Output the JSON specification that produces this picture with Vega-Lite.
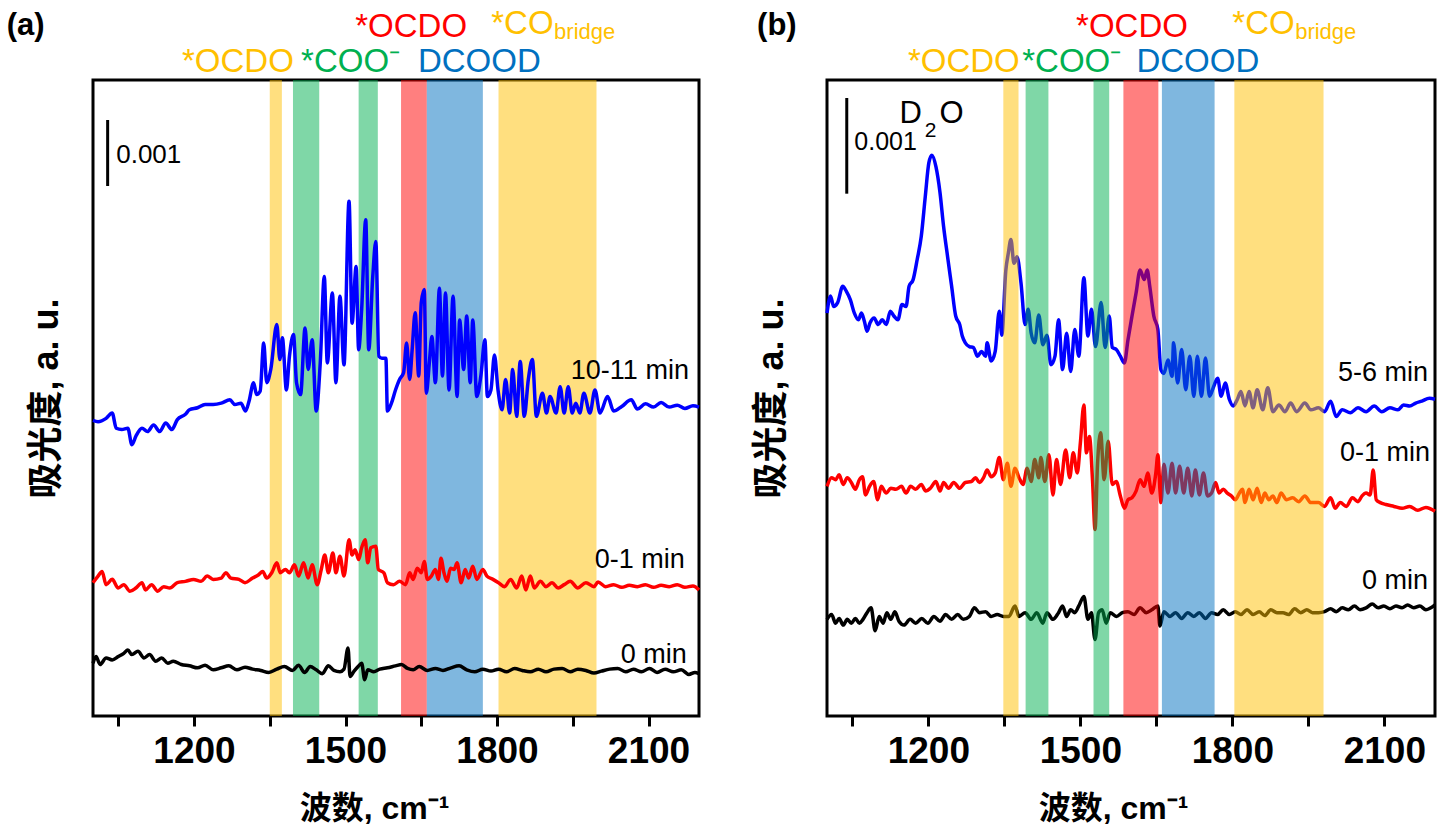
{
  "$schema": "https://vega.github.io/schema/vega-lite/v6.json",
  "background": "white",
  "padding": {"left": 5, "top": 6, "right": 5, "bottom": 5},
  "bounds": "flush",
  "spacing": 128,
  "config": {
    "view": {"stroke": "black", "strokeWidth": 3},
    "font": "Liberation Sans",
    "axisX": {
      "grid": false, "domain": false, "tickSize": 10, "tickWidth": 3, "tickColor": "black",
      "labelFont": "Liberation Sans", "labelFontSize": 37, "labelFontWeight": "bold", "labelColor": "black",
      "labelPadding": 7, "labelOverlap": false, "labelFlush": false,
      "titleFont": "Liberation Sans, Noto Sans CJK SC", "titleFontSize": 32, "titleFontWeight": "bold",
      "titleColor": "black", "titlePadding": 24
    },
    "axisY": {
      "grid": false, "domain": false, "ticks": false, "labels": false,
      "titleFont": "Liberation Sans, Noto Sans CJK SC", "titleFontSize": 36, "titleFontWeight": "bold",
      "titleColor": "black"
    }
  },
  "datasets": {
    "a_0": [
      {"wn":1000,"v":0.80},{"wn":1006,"v":0.90},{"wn":1014,"v":0.78},{"wn":1026,"v":0.88},{"wn":1038,"v":0.85},{"wn":1050,"v":0.90},{"wn":1061,"v":0.95},{"wn":1069,"v":1.00},{"wn":1077,"v":0.93},{"wn":1089,"v":0.98},{"wn":1101,"v":0.88},{"wn":1112,"v":0.93},{"wn":1124,"v":0.83},{"wn":1136,"v":0.88},{"wn":1148,"v":0.80},{"wn":1159,"v":0.83},{"wn":1175,"v":0.78},{"wn":1191,"v":0.76},{"wn":1207,"v":0.73},{"wn":1222,"v":0.77},{"wn":1238,"v":0.70},{"wn":1254,"v":0.73},{"wn":1269,"v":0.76},{"wn":1285,"v":0.70},{"wn":1301,"v":0.74},{"wn":1316,"v":0.71},{"wn":1332,"v":0.69},{"wn":1348,"v":0.66},{"wn":1364,"v":0.71},{"wn":1379,"v":0.75},{"wn":1395,"v":0.69},{"wn":1407,"v":0.77},{"wn":1419,"v":0.66},{"wn":1430,"v":0.75},{"wn":1442,"v":0.70},{"wn":1454,"v":0.64},{"wn":1466,"v":0.76},{"wn":1477,"v":0.69},{"wn":1489,"v":0.67},{"wn":1497,"v":0.71},{"wn":1505,"v":1.03},{"wn":1509,"v":0.60},{"wn":1517,"v":0.68},{"wn":1525,"v":0.75},{"wn":1532,"v":0.80},{"wn":1538,"v":0.55},{"wn":1544,"v":0.70},{"wn":1556,"v":0.67},{"wn":1568,"v":0.71},{"wn":1583,"v":0.73},{"wn":1599,"v":0.76},{"wn":1611,"v":0.78},{"wn":1623,"v":0.72},{"wn":1634,"v":0.70},{"wn":1646,"v":0.75},{"wn":1662,"v":0.69},{"wn":1678,"v":0.72},{"wn":1693,"v":0.69},{"wn":1709,"v":0.73},{"wn":1725,"v":0.76},{"wn":1740,"v":0.70},{"wn":1756,"v":0.67},{"wn":1772,"v":0.71},{"wn":1788,"v":0.68},{"wn":1803,"v":0.71},{"wn":1819,"v":0.67},{"wn":1835,"v":0.72},{"wn":1850,"v":0.69},{"wn":1866,"v":0.67},{"wn":1882,"v":0.71},{"wn":1897,"v":0.67},{"wn":1913,"v":0.71},{"wn":1929,"v":0.72},{"wn":1945,"v":0.67},{"wn":1960,"v":0.71},{"wn":1976,"v":0.69},{"wn":1992,"v":0.65},{"wn":2007,"v":0.68},{"wn":2023,"v":0.71},{"wn":2039,"v":0.72},{"wn":2055,"v":0.67},{"wn":2070,"v":0.71},{"wn":2086,"v":0.67},{"wn":2102,"v":0.72},{"wn":2117,"v":0.66},{"wn":2133,"v":0.71},{"wn":2149,"v":0.67},{"wn":2165,"v":0.70},{"wn":2180,"v":0.63},{"wn":2192,"v":0.66},{"wn":2200,"v":0.64}
    ],
    "a_01": [
      {"wn":1000,"v":2.02},{"wn":1010,"v":2.12},{"wn":1018,"v":2.19},{"wn":1026,"v":1.99},{"wn":1038,"v":2.07},{"wn":1050,"v":1.94},{"wn":1061,"v":1.99},{"wn":1073,"v":1.89},{"wn":1085,"v":1.94},{"wn":1097,"v":2.02},{"wn":1104,"v":1.91},{"wn":1116,"v":1.99},{"wn":1128,"v":1.89},{"wn":1140,"v":1.96},{"wn":1152,"v":1.94},{"wn":1167,"v":2.02},{"wn":1183,"v":2.04},{"wn":1199,"v":2.07},{"wn":1214,"v":2.04},{"wn":1226,"v":2.12},{"wn":1238,"v":2.07},{"wn":1254,"v":2.09},{"wn":1263,"v":2.17},{"wn":1273,"v":2.09},{"wn":1289,"v":2.07},{"wn":1301,"v":2.02},{"wn":1316,"v":2.09},{"wn":1328,"v":2.14},{"wn":1336,"v":2.19},{"wn":1344,"v":2.09},{"wn":1354,"v":2.17},{"wn":1364,"v":2.32},{"wn":1371,"v":2.17},{"wn":1381,"v":2.22},{"wn":1389,"v":2.17},{"wn":1399,"v":2.29},{"wn":1407,"v":2.12},{"wn":1417,"v":2.32},{"wn":1426,"v":2.09},{"wn":1434,"v":2.29},{"wn":1444,"v":1.99},{"wn":1452,"v":2.22},{"wn":1459,"v":2.44},{"wn":1466,"v":2.17},{"wn":1475,"v":2.47},{"wn":1481,"v":2.17},{"wn":1489,"v":2.42},{"wn":1497,"v":2.12},{"wn":1507,"v":2.67},{"wn":1513,"v":2.44},{"wn":1519,"v":2.52},{"wn":1526,"v":2.37},{"wn":1532,"v":2.55},{"wn":1539,"v":2.67},{"wn":1544,"v":2.32},{"wn":1550,"v":2.55},{"wn":1560,"v":2.57},{"wn":1565,"v":2.22},{"wn":1576,"v":2.17},{"wn":1583,"v":2.02},{"wn":1595,"v":1.99},{"wn":1607,"v":2.04},{"wn":1619,"v":1.99},{"wn":1627,"v":2.17},{"wn":1634,"v":2.07},{"wn":1642,"v":2.24},{"wn":1650,"v":2.17},{"wn":1656,"v":2.34},{"wn":1662,"v":2.07},{"wn":1670,"v":2.12},{"wn":1678,"v":2.22},{"wn":1684,"v":2.07},{"wn":1689,"v":2.39},{"wn":1695,"v":2.17},{"wn":1701,"v":2.04},{"wn":1708,"v":2.24},{"wn":1715,"v":2.22},{"wn":1721,"v":2.32},{"wn":1729,"v":2.02},{"wn":1737,"v":2.22},{"wn":1744,"v":2.09},{"wn":1752,"v":2.27},{"wn":1760,"v":2.07},{"wn":1772,"v":2.22},{"wn":1780,"v":2.12},{"wn":1792,"v":2.07},{"wn":1803,"v":2.02},{"wn":1815,"v":1.96},{"wn":1827,"v":2.07},{"wn":1839,"v":1.94},{"wn":1849,"v":2.12},{"wn":1857,"v":1.91},{"wn":1866,"v":2.12},{"wn":1874,"v":1.94},{"wn":1886,"v":2.04},{"wn":1897,"v":1.96},{"wn":1909,"v":2.02},{"wn":1921,"v":1.94},{"wn":1933,"v":1.99},{"wn":1945,"v":2.04},{"wn":1960,"v":1.94},{"wn":1976,"v":2.02},{"wn":1992,"v":1.96},{"wn":2000,"v":2.03},{"wn":2015,"v":1.96},{"wn":2031,"v":1.99},{"wn":2047,"v":1.95},{"wn":2062,"v":1.98},{"wn":2078,"v":1.96},{"wn":2094,"v":1.99},{"wn":2110,"v":1.95},{"wn":2125,"v":1.98},{"wn":2141,"v":1.96},{"wn":2157,"v":1.99},{"wn":2172,"v":1.95},{"wn":2188,"v":1.97},{"wn":2200,"v":1.91}
    ],
    "a_1011": [
      {"wn":1000,"v":4.48},{"wn":1010,"v":4.46},{"wn":1026,"v":4.51},{"wn":1038,"v":4.59},{"wn":1046,"v":4.36},{"wn":1057,"v":4.34},{"wn":1069,"v":4.36},{"wn":1077,"v":4.11},{"wn":1085,"v":4.24},{"wn":1097,"v":4.36},{"wn":1108,"v":4.31},{"wn":1120,"v":4.41},{"wn":1132,"v":4.31},{"wn":1144,"v":4.44},{"wn":1156,"v":4.34},{"wn":1167,"v":4.49},{"wn":1183,"v":4.57},{"wn":1191,"v":4.64},{"wn":1207,"v":4.67},{"wn":1222,"v":4.72},{"wn":1238,"v":4.72},{"wn":1254,"v":4.74},{"wn":1271,"v":4.79},{"wn":1281,"v":4.72},{"wn":1293,"v":4.74},{"wn":1302,"v":4.62},{"wn":1309,"v":4.77},{"wn":1318,"v":5.05},{"wn":1324,"v":4.87},{"wn":1331,"v":4.92},{"wn":1338,"v":5.65},{"wn":1344,"v":5.05},{"wn":1352,"v":5.25},{"wn":1364,"v":5.93},{"wn":1370,"v":5.40},{"wn":1375,"v":5.73},{"wn":1383,"v":4.94},{"wn":1389,"v":5.45},{"wn":1397,"v":5.78},{"wn":1403,"v":5.05},{"wn":1411,"v":4.87},{"wn":1420,"v":5.88},{"wn":1426,"v":5.25},{"wn":1434,"v":5.70},{"wn":1442,"v":4.62},{"wn":1450,"v":5.35},{"wn":1458,"v":6.66},{"wn":1464,"v":5.35},{"wn":1474,"v":6.41},{"wn":1481,"v":5.05},{"wn":1489,"v":6.36},{"wn":1497,"v":5.32},{"wn":1507,"v":7.80},{"wn":1513,"v":5.95},{"wn":1521,"v":6.81},{"wn":1526,"v":5.55},{"wn":1532,"v":6.16},{"wn":1540,"v":7.52},{"wn":1546,"v":5.55},{"wn":1554,"v":6.66},{"wn":1560,"v":7.19},{"wn":1566,"v":5.45},{"wn":1572,"v":5.42},{"wn":1580,"v":5.42},{"wn":1583,"v":4.62},{"wn":1591,"v":4.74},{"wn":1599,"v":4.94},{"wn":1607,"v":5.10},{"wn":1615,"v":5.20},{"wn":1621,"v":5.65},{"wn":1627,"v":5.10},{"wn":1632,"v":5.55},{"wn":1638,"v":6.11},{"wn":1645,"v":5.15},{"wn":1650,"v":6.26},{"wn":1656,"v":6.46},{"wn":1660,"v":4.89},{"wn":1666,"v":5.35},{"wn":1671,"v":5.75},{"wn":1678,"v":5.05},{"wn":1686,"v":6.48},{"wn":1692,"v":5.15},{"wn":1698,"v":6.41},{"wn":1705,"v":4.94},{"wn":1713,"v":6.36},{"wn":1721,"v":4.84},{"wn":1726,"v":6.00},{"wn":1734,"v":5.25},{"wn":1740,"v":6.06},{"wn":1747,"v":5.05},{"wn":1752,"v":6.00},{"wn":1760,"v":4.84},{"wn":1768,"v":5.15},{"wn":1776,"v":5.70},{"wn":1781,"v":4.84},{"wn":1788,"v":4.94},{"wn":1795,"v":5.47},{"wn":1802,"v":4.94},{"wn":1810,"v":4.64},{"wn":1817,"v":5.10},{"wn":1825,"v":4.59},{"wn":1831,"v":5.25},{"wn":1839,"v":4.54},{"wn":1846,"v":5.37},{"wn":1854,"v":4.54},{"wn":1862,"v":5.10},{"wn":1870,"v":5.40},{"wn":1878,"v":4.54},{"wn":1890,"v":4.89},{"wn":1898,"v":4.59},{"wn":1905,"v":4.84},{"wn":1917,"v":4.59},{"wn":1925,"v":4.99},{"wn":1933,"v":4.59},{"wn":1941,"v":4.99},{"wn":1949,"v":4.59},{"wn":1956,"v":4.74},{"wn":1964,"v":4.59},{"wn":1972,"v":4.89},{"wn":1984,"v":4.59},{"wn":1994,"v":4.94},{"wn":2004,"v":4.59},{"wn":2019,"v":4.84},{"wn":2031,"v":4.62},{"wn":2047,"v":4.69},{"wn":2066,"v":4.79},{"wn":2078,"v":4.65},{"wn":2094,"v":4.73},{"wn":2110,"v":4.68},{"wn":2125,"v":4.75},{"wn":2141,"v":4.68},{"wn":2157,"v":4.71},{"wn":2172,"v":4.66},{"wn":2188,"v":4.70},{"wn":2200,"v":4.68}
    ],
    "b_0": [
      {"wn":1000,"v":1.01},{"wn":1009,"v":1.06},{"wn":1017,"v":0.97},{"wn":1024,"v":1.02},{"wn":1032,"v":0.95},{"wn":1040,"v":1.01},{"wn":1048,"v":0.97},{"wn":1056,"v":1.02},{"wn":1064,"v":0.97},{"wn":1071,"v":1.01},{"wn":1079,"v":1.08},{"wn":1087,"v":1.13},{"wn":1095,"v":0.89},{"wn":1103,"v":1.04},{"wn":1111,"v":0.97},{"wn":1118,"v":1.08},{"wn":1126,"v":1.01},{"wn":1134,"v":1.09},{"wn":1142,"v":0.99},{"wn":1152,"v":0.95},{"wn":1164,"v":1.01},{"wn":1175,"v":0.97},{"wn":1187,"v":1.02},{"wn":1199,"v":0.97},{"wn":1211,"v":1.04},{"wn":1223,"v":0.99},{"wn":1234,"v":1.06},{"wn":1246,"v":1.01},{"wn":1258,"v":1.06},{"wn":1269,"v":1.01},{"wn":1281,"v":1.04},{"wn":1291,"v":1.13},{"wn":1301,"v":1.08},{"wn":1313,"v":1.09},{"wn":1324,"v":1.04},{"wn":1336,"v":1.06},{"wn":1348,"v":1.04},{"wn":1359,"v":1.04},{"wn":1371,"v":1.15},{"wn":1379,"v":1.04},{"wn":1391,"v":1.08},{"wn":1403,"v":1.01},{"wn":1414,"v":1.08},{"wn":1426,"v":0.97},{"wn":1434,"v":1.08},{"wn":1446,"v":1.01},{"wn":1457,"v":1.08},{"wn":1465,"v":1.15},{"wn":1473,"v":1.04},{"wn":1481,"v":1.11},{"wn":1489,"v":1.08},{"wn":1497,"v":1.15},{"wn":1507,"v":1.25},{"wn":1515,"v":1.01},{"wn":1522,"v":1.08},{"wn":1529,"v":0.80},{"wn":1536,"v":1.08},{"wn":1543,"v":1.11},{"wn":1551,"v":0.97},{"wn":1559,"v":1.08},{"wn":1571,"v":1.04},{"wn":1583,"v":1.08},{"wn":1594,"v":1.09},{"wn":1606,"v":1.06},{"wn":1618,"v":1.13},{"wn":1630,"v":1.08},{"wn":1641,"v":1.11},{"wn":1653,"v":1.15},{"wn":1657,"v":0.94},{"wn":1665,"v":1.09},{"wn":1677,"v":1.04},{"wn":1688,"v":1.08},{"wn":1700,"v":1.02},{"wn":1712,"v":1.08},{"wn":1724,"v":1.04},{"wn":1735,"v":1.08},{"wn":1747,"v":1.02},{"wn":1759,"v":1.08},{"wn":1771,"v":1.06},{"wn":1782,"v":1.11},{"wn":1794,"v":1.06},{"wn":1806,"v":1.09},{"wn":1817,"v":1.06},{"wn":1829,"v":1.11},{"wn":1841,"v":1.06},{"wn":1853,"v":1.09},{"wn":1864,"v":1.05},{"wn":1876,"v":1.11},{"wn":1888,"v":1.08},{"wn":1900,"v":1.08},{"wn":1911,"v":1.06},{"wn":1923,"v":1.12},{"wn":1935,"v":1.08},{"wn":1947,"v":1.11},{"wn":1958,"v":1.08},{"wn":1970,"v":1.08},{"wn":1982,"v":1.09},{"wn":1994,"v":1.12},{"wn":2005,"v":1.09},{"wn":2017,"v":1.13},{"wn":2029,"v":1.11},{"wn":2041,"v":1.15},{"wn":2052,"v":1.11},{"wn":2064,"v":1.13},{"wn":2076,"v":1.17},{"wn":2088,"v":1.13},{"wn":2099,"v":1.15},{"wn":2111,"v":1.12},{"wn":2123,"v":1.15},{"wn":2135,"v":1.13},{"wn":2146,"v":1.16},{"wn":2158,"v":1.13},{"wn":2170,"v":1.15},{"wn":2182,"v":1.11},{"wn":2200,"v":1.16}
    ],
    "b_01": [
      {"wn":1000,"v":2.40},{"wn":1009,"v":2.49},{"wn":1017,"v":2.47},{"wn":1024,"v":2.52},{"wn":1032,"v":2.42},{"wn":1040,"v":2.49},{"wn":1048,"v":2.44},{"wn":1056,"v":2.37},{"wn":1064,"v":2.47},{"wn":1070,"v":2.50},{"wn":1076,"v":2.31},{"wn":1084,"v":2.40},{"wn":1092,"v":2.45},{"wn":1100,"v":2.26},{"wn":1107,"v":2.40},{"wn":1117,"v":2.33},{"wn":1126,"v":2.38},{"wn":1136,"v":2.37},{"wn":1147,"v":2.40},{"wn":1156,"v":2.33},{"wn":1165,"v":2.40},{"wn":1175,"v":2.37},{"wn":1186,"v":2.42},{"wn":1195,"v":2.35},{"wn":1204,"v":2.38},{"wn":1215,"v":2.45},{"wn":1223,"v":2.35},{"wn":1230,"v":2.44},{"wn":1240,"v":2.38},{"wn":1250,"v":2.44},{"wn":1262,"v":2.38},{"wn":1273,"v":2.44},{"wn":1285,"v":2.45},{"wn":1293,"v":2.49},{"wn":1301,"v":2.44},{"wn":1309,"v":2.49},{"wn":1316,"v":2.57},{"wn":1324,"v":2.50},{"wn":1332,"v":2.54},{"wn":1340,"v":2.70},{"wn":1348,"v":2.47},{"wn":1356,"v":2.64},{"wn":1363,"v":2.40},{"wn":1371,"v":2.59},{"wn":1379,"v":2.49},{"wn":1387,"v":2.42},{"wn":1395,"v":2.59},{"wn":1403,"v":2.45},{"wn":1410,"v":2.68},{"wn":1418,"v":2.49},{"wn":1422,"v":2.70},{"wn":1430,"v":2.45},{"wn":1438,"v":2.73},{"wn":1446,"v":2.31},{"wn":1453,"v":2.68},{"wn":1461,"v":2.42},{"wn":1471,"v":2.78},{"wn":1479,"v":2.49},{"wn":1486,"v":2.75},{"wn":1494,"v":2.54},{"wn":1500,"v":2.85},{"wn":1507,"v":3.25},{"wn":1512,"v":2.75},{"wn":1518,"v":2.92},{"wn":1524,"v":2.47},{"wn":1529,"v":1.95},{"wn":1534,"v":2.64},{"wn":1540,"v":2.96},{"wn":1547,"v":2.47},{"wn":1555,"v":2.87},{"wn":1563,"v":2.42},{"wn":1571,"v":2.45},{"wn":1579,"v":2.30},{"wn":1587,"v":2.17},{"wn":1594,"v":2.26},{"wn":1602,"v":2.28},{"wn":1610,"v":2.35},{"wn":1618,"v":2.47},{"wn":1626,"v":2.40},{"wn":1633,"v":2.54},{"wn":1641,"v":2.33},{"wn":1649,"v":2.54},{"wn":1653,"v":2.73},{"wn":1659,"v":2.23},{"wn":1665,"v":2.63},{"wn":1673,"v":2.33},{"wn":1681,"v":2.64},{"wn":1688,"v":2.33},{"wn":1696,"v":2.61},{"wn":1704,"v":2.33},{"wn":1712,"v":2.59},{"wn":1720,"v":2.30},{"wn":1727,"v":2.57},{"wn":1735,"v":2.31},{"wn":1743,"v":2.54},{"wn":1751,"v":2.30},{"wn":1759,"v":2.33},{"wn":1767,"v":2.44},{"wn":1774,"v":2.33},{"wn":1782,"v":2.37},{"wn":1790,"v":2.33},{"wn":1798,"v":2.30},{"wn":1806,"v":2.26},{"wn":1814,"v":2.33},{"wn":1820,"v":2.37},{"wn":1825,"v":2.23},{"wn":1833,"v":2.37},{"wn":1841,"v":2.26},{"wn":1849,"v":2.38},{"wn":1857,"v":2.23},{"wn":1864,"v":2.33},{"wn":1872,"v":2.26},{"wn":1880,"v":2.30},{"wn":1888,"v":2.23},{"wn":1896,"v":2.33},{"wn":1907,"v":2.26},{"wn":1919,"v":2.28},{"wn":1931,"v":2.24},{"wn":1943,"v":2.30},{"wn":1955,"v":2.23},{"wn":1970,"v":2.23},{"wn":1982,"v":2.19},{"wn":1994,"v":2.28},{"wn":2003,"v":2.17},{"wn":2013,"v":2.23},{"wn":2025,"v":2.19},{"wn":2037,"v":2.28},{"wn":2048,"v":2.24},{"wn":2056,"v":2.30},{"wn":2064,"v":2.33},{"wn":2072,"v":2.31},{"wn":2078,"v":2.57},{"wn":2084,"v":2.26},{"wn":2092,"v":2.23},{"wn":2103,"v":2.21},{"wn":2119,"v":2.19},{"wn":2135,"v":2.17},{"wn":2150,"v":2.19},{"wn":2166,"v":2.15},{"wn":2182,"v":2.18},{"wn":2200,"v":2.14}
    ],
    "b_56": [
      {"wn":1000,"v":4.21},{"wn":1007,"v":4.39},{"wn":1013,"v":4.28},{"wn":1021,"v":4.32},{"wn":1031,"v":4.49},{"wn":1038,"v":4.44},{"wn":1046,"v":4.35},{"wn":1054,"v":4.21},{"wn":1062,"v":4.14},{"wn":1068,"v":4.21},{"wn":1074,"v":4.12},{"wn":1079,"v":4.02},{"wn":1085,"v":4.11},{"wn":1093,"v":4.16},{"wn":1101,"v":4.09},{"wn":1109,"v":4.14},{"wn":1117,"v":4.09},{"wn":1125,"v":4.23},{"wn":1132,"v":4.18},{"wn":1140,"v":4.14},{"wn":1148,"v":4.30},{"wn":1156,"v":4.28},{"wn":1162,"v":4.49},{"wn":1170,"v":4.56},{"wn":1178,"v":4.77},{"wn":1186,"v":5.01},{"wn":1194,"v":5.43},{"wn":1201,"v":5.78},{"wn":1207,"v":5.86},{"wn":1215,"v":5.74},{"wn":1223,"v":5.47},{"wn":1230,"v":5.12},{"wn":1238,"v":4.80},{"wn":1246,"v":4.49},{"wn":1254,"v":4.18},{"wn":1262,"v":4.09},{"wn":1267,"v":3.97},{"wn":1273,"v":3.90},{"wn":1281,"v":3.86},{"wn":1289,"v":3.85},{"wn":1297,"v":3.76},{"wn":1305,"v":3.81},{"wn":1313,"v":3.76},{"wn":1316,"v":3.90},{"wn":1324,"v":3.71},{"wn":1332,"v":3.81},{"wn":1340,"v":4.23},{"wn":1345,"v":3.98},{"wn":1353,"v":4.66},{"wn":1358,"v":4.84},{"wn":1363,"v":4.98},{"wn":1369,"v":4.73},{"wn":1375,"v":4.80},{"wn":1383,"v":4.52},{"wn":1391,"v":4.09},{"wn":1397,"v":4.25},{"wn":1403,"v":4.00},{"wn":1410,"v":3.90},{"wn":1418,"v":4.19},{"wn":1426,"v":3.88},{"wn":1434,"v":3.98},{"wn":1442,"v":3.67},{"wn":1450,"v":3.76},{"wn":1457,"v":4.14},{"wn":1465,"v":3.62},{"wn":1473,"v":4.00},{"wn":1481,"v":3.60},{"wn":1489,"v":4.04},{"wn":1497,"v":3.76},{"wn":1507,"v":4.58},{"wn":1515,"v":3.97},{"wn":1522,"v":4.25},{"wn":1530,"v":3.86},{"wn":1541,"v":4.32},{"wn":1549,"v":3.85},{"wn":1557,"v":4.18},{"wn":1563,"v":3.85},{"wn":1571,"v":3.83},{"wn":1579,"v":3.76},{"wn":1587,"v":3.69},{"wn":1594,"v":3.93},{"wn":1602,"v":4.18},{"wn":1610,"v":4.42},{"wn":1618,"v":4.66},{"wn":1626,"v":4.56},{"wn":1632,"v":4.66},{"wn":1637,"v":4.49},{"wn":1645,"v":4.18},{"wn":1653,"v":4.04},{"wn":1659,"v":3.62},{"wn":1665,"v":3.58},{"wn":1673,"v":3.72},{"wn":1681,"v":3.55},{"wn":1684,"v":3.90},{"wn":1692,"v":3.48},{"wn":1700,"v":3.83},{"wn":1708,"v":3.41},{"wn":1716,"v":3.76},{"wn":1724,"v":3.34},{"wn":1731,"v":3.76},{"wn":1739,"v":3.34},{"wn":1747,"v":3.74},{"wn":1755,"v":3.34},{"wn":1763,"v":3.44},{"wn":1771,"v":3.53},{"wn":1778,"v":3.34},{"wn":1786,"v":3.48},{"wn":1794,"v":3.31},{"wn":1802,"v":3.24},{"wn":1810,"v":3.31},{"wn":1817,"v":3.39},{"wn":1825,"v":3.24},{"wn":1833,"v":3.39},{"wn":1841,"v":3.22},{"wn":1849,"v":3.41},{"wn":1860,"v":3.20},{"wn":1870,"v":3.43},{"wn":1880,"v":3.18},{"wn":1892,"v":3.25},{"wn":1904,"v":3.18},{"wn":1915,"v":3.27},{"wn":1927,"v":3.18},{"wn":1943,"v":3.27},{"wn":1955,"v":3.20},{"wn":1970,"v":3.22},{"wn":1982,"v":3.18},{"wn":1994,"v":3.29},{"wn":2005,"v":3.13},{"wn":2017,"v":3.20},{"wn":2033,"v":3.17},{"wn":2048,"v":3.22},{"wn":2064,"v":3.18},{"wn":2080,"v":3.24},{"wn":2095,"v":3.18},{"wn":2111,"v":3.22},{"wn":2127,"v":3.20},{"wn":2138,"v":3.25},{"wn":2150,"v":3.24},{"wn":2162,"v":3.27},{"wn":2174,"v":3.29},{"wn":2189,"v":3.32},{"wn":2200,"v":3.31}
    ]
  },
  "hconcat": [
    {
      "width": 606,
      "height": 636,
      "layer": [
        {
          "data": {"values": [
            {"lo":1350,"hi":1374,"kind":"OCDO/CO"},{"lo":1396,"hi":1448,"kind":"COO"},{"lo":1526,"hi":1564,"kind":"COO"},
            {"lo":1610,"hi":1661,"kind":"OCDO"},{"lo":1661,"hi":1772,"kind":"DCOOD"},{"lo":1803,"hi":1997,"kind":"OCDO/CO"}
          ]},
          "mark": {"type": "rect", "opacity": 0.5},
          "encoding": {
            "x": {"field": "lo", "type": "quantitative", "scale": {"domain": [1000, 2200], "nice": false, "zero": false},
              "axis": {"title": "波数, cm⁻¹", "titleX": 281, "values": [1050,1200,1350,1500,1650,1800,1950,2100], "format": "d",
                "labelExpr": "datum.value % 300 === 0 ? datum.label : ''"}},
            "x2": {"field": "hi"},
            "fill": {"field": "kind", "type": "nominal", "scale": {"domain": ["OCDO/CO","COO","OCDO","DCOOD"], "range": ["#FFC000","#00B050","#FF0000","#0070C0"]}, "legend": null}
          }
        },
        {
          "data": {"name": "a_0"},
          "mark": {"type": "line", "color": "black", "strokeWidth": 3.5, "strokeJoin": "round", "interpolate": "monotone"},
          "encoding": {
            "x": {"field": "wn", "type": "quantitative", "scale": {"domain": [1000, 2200], "nice": false, "zero": false},
              "axis": {"title": "波数, cm⁻¹", "titleX": 281, "values": [1050,1200,1350,1500,1650,1800,1950,2100], "format": "d",
                "labelExpr": "datum.value % 300 === 0 ? datum.label : ''"}},
            "y": {"field": "v", "type": "quantitative", "scale": {"domain": [0, 9.636], "nice": false, "zero": false},
              "axis": {"title": "吸光度, a. u.", "titlePadding": 28}}
          }
        },
        {
          "data": {"name": "a_01"},
          "mark": {"type": "line", "color": "#FF0000", "strokeWidth": 3.5, "strokeJoin": "round", "interpolate": "monotone"},
          "encoding": {
            "x": {"field": "wn", "type": "quantitative", "scale": {"domain": [1000, 2200]}},
            "y": {"field": "v", "type": "quantitative", "scale": {"domain": [0, 9.636]}}
          }
        },
        {
          "data": {"name": "a_1011"},
          "mark": {"type": "line", "color": "#0000FF", "strokeWidth": 3.5, "strokeJoin": "round", "interpolate": "monotone"},
          "encoding": {
            "x": {"field": "wn", "type": "quantitative", "scale": {"domain": [1000, 2200]}},
            "y": {"field": "v", "type": "quantitative", "scale": {"domain": [0, 9.636]}}
          }
        },
        {
          "data": {"values": [{"wn":2180,"v":5.106,"t":"10-11 min"},{"wn":2172,"v":2.242,"t":"0-1 min"},{"wn":2176,"v":0.803,"t":"0 min"}]},
          "mark": {"type": "text", "align": "right", "baseline": "alphabetic", "fontSize": 27, "color": "black"},
          "encoding": {
            "x": {"field": "wn", "type": "quantitative", "scale": {"domain": [1000, 2200]}},
            "y": {"field": "v", "type": "quantitative", "scale": {"domain": [0, 9.636]}},
            "text": {"field": "t"}
          }
        },
        {
          "data": {"values": [{"wn":1029,"v":8.03,"v2":9.03}]},
          "mark": {"type": "rule", "color": "black", "strokeWidth": 3},
          "encoding": {
            "x": {"field": "wn", "type": "quantitative", "scale": {"domain": [1000, 2200]}},
            "y": {"field": "v", "type": "quantitative", "scale": {"domain": [0, 9.636]}},
            "y2": {"field": "v2"}
          }
        },
        {
          "data": {"values": [{"wn":1046,"v":8.5,"t":"0.001"}]},
          "mark": {"type": "text", "align": "left", "baseline": "middle", "fontSize": 26, "color": "black"},
          "encoding": {
            "x": {"field": "wn", "type": "quantitative", "scale": {"domain": [1000, 2200]}},
            "y": {"field": "v", "type": "quantitative", "scale": {"domain": [0, 9.636]}},
            "text": {"field": "t"}
          }
        },
        {
          "data": {"values": [
            {"wn":1630,"v":10.29,"t":"*OCDO","kind":"OCDO"},
            {"wn":1287,"v":9.76,"t":"*OCDO","kind":"OCDO/CO"},
            {"wn":1510,"v":9.76,"t":"*COO⁻","kind":"COO"},
            {"wn":1765,"v":9.76,"t":"DCOOD","kind":"DCOOD"}
          ]},
          "mark": {"type": "text", "align": "center", "baseline": "alphabetic", "fontSize": 33},
          "encoding": {
            "x": {"field": "wn", "type": "quantitative", "scale": {"domain": [1000, 2200]}},
            "y": {"field": "v", "type": "quantitative", "scale": {"domain": [0, 9.636]}},
            "text": {"field": "t"},
            "fill": {"field": "kind", "type": "nominal", "scale": {"domain": ["OCDO/CO","COO","OCDO","DCOOD"], "range": ["#FFC000","#00B050","#FF0000","#0070C0"]}, "legend": null}
          }
        },
        {
          "data": {"values": [
            {"wn":1912,"v":10.33,"t":"*CO","kind":"OCDO/CO"}
          ]},
          "mark": {"type": "text", "align": "right", "baseline": "alphabetic", "fontSize": 33},
          "encoding": {
            "x": {"field": "wn", "type": "quantitative", "scale": {"domain": [1000, 2200]}},
            "y": {"field": "v", "type": "quantitative", "scale": {"domain": [0, 9.636]}},
            "text": {"field": "t"},
            "fill": {"field": "kind", "type": "nominal", "scale": {"domain": ["OCDO/CO","COO","OCDO","DCOOD"], "range": ["#FFC000","#00B050","#FF0000","#0070C0"]}, "legend": null}
          }
        },
        {
          "data": {"values": [
            {"wn":1913,"v":10.26,"t":"bridge","kind":"OCDO/CO"}
          ]},
          "mark": {"type": "text", "align": "left", "baseline": "alphabetic", "fontSize": 22},
          "encoding": {
            "x": {"field": "wn", "type": "quantitative", "scale": {"domain": [1000, 2200]}},
            "y": {"field": "v", "type": "quantitative", "scale": {"domain": [0, 9.636]}},
            "text": {"field": "t"},
            "fill": {"field": "kind", "type": "nominal", "scale": {"domain": ["OCDO/CO","COO","OCDO","DCOOD"], "range": ["#FFC000","#00B050","#FF0000","#0070C0"]}, "legend": null}
          }
        },
        {
          "data": {"values": [{"wn":829,"v":10.32,"t":"(a)"}]},
          "mark": {"type": "text", "align": "left", "baseline": "alphabetic", "fontSize": 31, "fontWeight": "bold", "color": "black"},
          "encoding": {
            "x": {"field": "wn", "type": "quantitative", "scale": {"domain": [1000, 2200]}},
            "y": {"field": "v", "type": "quantitative", "scale": {"domain": [0, 9.636]}},
            "text": {"field": "t"}
          }
        }
      ]
    },
    {
      "width": 608,
      "height": 636,
      "layer": [
        {
          "data": {"name": "b_0"},
          "mark": {"type": "line", "color": "black", "strokeWidth": 3.5, "strokeJoin": "round", "interpolate": "monotone"},
          "encoding": {
            "x": {"field": "wn", "type": "quantitative", "scale": {"domain": [1000, 2200], "nice": false, "zero": false},
              "axis": {"title": "波数, cm⁻¹", "titleX": 286, "values": [1050,1200,1350,1500,1650,1800,1950,2100], "format": "d",
                "labelExpr": "datum.value % 300 === 0 ? datum.label : ''"}},
            "y": {"field": "v", "type": "quantitative", "scale": {"domain": [0, 6.646], "nice": false, "zero": false},
              "axis": {"title": "吸光度, a. u.", "titlePadding": 37}}
          }
        },
        {
          "data": {"name": "b_01"},
          "mark": {"type": "line", "color": "#FF0000", "strokeWidth": 3.5, "strokeJoin": "round", "interpolate": "monotone"},
          "encoding": {
            "x": {"field": "wn", "type": "quantitative", "scale": {"domain": [1000, 2200]}},
            "y": {"field": "v", "type": "quantitative", "scale": {"domain": [0, 6.646]}}
          }
        },
        {
          "data": {"name": "b_56"},
          "mark": {"type": "line", "color": "#0000FF", "strokeWidth": 3.5, "strokeJoin": "round", "interpolate": "monotone"},
          "encoding": {
            "x": {"field": "wn", "type": "quantitative", "scale": {"domain": [1000, 2200]}},
            "y": {"field": "v", "type": "quantitative", "scale": {"domain": [0, 6.646]}}
          }
        },
        {
          "data": {"values": [
            {"lo":1348,"hi":1378,"kind":"OCDO/CO"},{"lo":1392,"hi":1437,"kind":"COO"},{"lo":1526,"hi":1557,"kind":"COO"},
            {"lo":1585,"hi":1654,"kind":"OCDO"},{"lo":1661,"hi":1765,"kind":"DCOOD"},{"lo":1804,"hi":1980,"kind":"OCDO/CO"}
          ]},
          "mark": {"type": "rect", "opacity": 0.5},
          "encoding": {
            "x": {"field": "lo", "type": "quantitative", "scale": {"domain": [1000, 2200]}},
            "x2": {"field": "hi"},
            "fill": {"field": "kind", "type": "nominal", "scale": {"domain": ["OCDO/CO","COO","OCDO","DCOOD"], "range": ["#FFC000","#00B050","#FF0000","#0070C0"]}, "legend": null}
          }
        },
        {
          "data": {"values": [{"wn":2186,"v":3.50,"t":"5-6 min"},{"wn":2190,"v":2.665,"t":"0-1 min"},{"wn":2186,"v":1.322,"t":"0 min"}]},
          "mark": {"type": "text", "align": "right", "baseline": "alphabetic", "fontSize": 27, "color": "black"},
          "encoding": {
            "x": {"field": "wn", "type": "quantitative", "scale": {"domain": [1000, 2200]}},
            "y": {"field": "v", "type": "quantitative", "scale": {"domain": [0, 6.646]}},
            "text": {"field": "t"}
          }
        },
        {
          "data": {"values": [{"wn":1039,"v":5.458,"v2":6.458}]},
          "mark": {"type": "rule", "color": "black", "strokeWidth": 3},
          "encoding": {
            "x": {"field": "wn", "type": "quantitative", "scale": {"domain": [1000, 2200]}},
            "y": {"field": "v", "type": "quantitative", "scale": {"domain": [0, 6.646]}},
            "y2": {"field": "v2"}
          }
        },
        {
          "data": {"values": [{"wn":1054,"v":6.0,"t":"0.001"}]},
          "mark": {"type": "text", "align": "left", "baseline": "middle", "fontSize": 25, "color": "black"},
          "encoding": {
            "x": {"field": "wn", "type": "quantitative", "scale": {"domain": [1000, 2200]}},
            "y": {"field": "v", "type": "quantitative", "scale": {"domain": [0, 6.646]}},
            "text": {"field": "t"}
          }
        },
        {
          "data": {"values": [{"wn":1143,"v":6.197,"t":"D"},{"wn":1222,"v":6.197,"t":"O"}]},
          "mark": {"type": "text", "align": "left", "baseline": "alphabetic", "fontSize": 31, "color": "black"},
          "encoding": {
            "x": {"field": "wn", "type": "quantitative", "scale": {"domain": [1000, 2200]}},
            "y": {"field": "v", "type": "quantitative", "scale": {"domain": [0, 6.646]}},
            "text": {"field": "t"}
          }
        },
        {
          "data": {"values": [{"wn":1193,"v":6.05,"t":"2"}]},
          "mark": {"type": "text", "align": "left", "baseline": "alphabetic", "fontSize": 21, "color": "black"},
          "encoding": {
            "x": {"field": "wn", "type": "quantitative", "scale": {"domain": [1000, 2200]}},
            "y": {"field": "v", "type": "quantitative", "scale": {"domain": [0, 6.646]}},
            "text": {"field": "t"}
          }
        },
        {
          "data": {"values": [
            {"wn":1602,"v":7.095,"t":"*OCDO","kind":"OCDO"},
            {"wn":1270,"v":6.729,"t":"*OCDO","kind":"OCDO/CO"},
            {"wn":1483,"v":6.729,"t":"*COO⁻","kind":"COO"},
            {"wn":1732,"v":6.729,"t":"DCOOD","kind":"DCOOD"}
          ]},
          "mark": {"type": "text", "align": "center", "baseline": "alphabetic", "fontSize": 33},
          "encoding": {
            "x": {"field": "wn", "type": "quantitative", "scale": {"domain": [1000, 2200]}},
            "y": {"field": "v", "type": "quantitative", "scale": {"domain": [0, 6.646]}},
            "text": {"field": "t"},
            "fill": {"field": "kind", "type": "nominal", "scale": {"domain": ["OCDO/CO","COO","OCDO","DCOOD"], "range": ["#FFC000","#00B050","#FF0000","#0070C0"]}, "legend": null}
          }
        },
        {
          "data": {"values": [
            {"wn":1923,"v":7.126,"t":"*CO","kind":"OCDO/CO"}
          ]},
          "mark": {"type": "text", "align": "right", "baseline": "alphabetic", "fontSize": 33},
          "encoding": {
            "x": {"field": "wn", "type": "quantitative", "scale": {"domain": [1000, 2200]}},
            "y": {"field": "v", "type": "quantitative", "scale": {"domain": [0, 6.646]}},
            "text": {"field": "t"},
            "fill": {"field": "kind", "type": "nominal", "scale": {"domain": ["OCDO/CO","COO","OCDO","DCOOD"], "range": ["#FFC000","#00B050","#FF0000","#0070C0"]}, "legend": null}
          }
        },
        {
          "data": {"values": [
            {"wn":1924,"v":7.074,"t":"bridge","kind":"OCDO/CO"}
          ]},
          "mark": {"type": "text", "align": "left", "baseline": "alphabetic", "fontSize": 22},
          "encoding": {
            "x": {"field": "wn", "type": "quantitative", "scale": {"domain": [1000, 2200]}},
            "y": {"field": "v", "type": "quantitative", "scale": {"domain": [0, 6.646]}},
            "text": {"field": "t"},
            "fill": {"field": "kind", "type": "nominal", "scale": {"domain": ["OCDO/CO","COO","OCDO","DCOOD"], "range": ["#FFC000","#00B050","#FF0000","#0070C0"]}, "legend": null}
          }
        },
        {
          "data": {"values": [{"wn":862,"v":7.116,"t":"(b)"}]},
          "mark": {"type": "text", "align": "left", "baseline": "alphabetic", "fontSize": 31, "fontWeight": "bold", "color": "black"},
          "encoding": {
            "x": {"field": "wn", "type": "quantitative", "scale": {"domain": [1000, 2200]}},
            "y": {"field": "v", "type": "quantitative", "scale": {"domain": [0, 6.646]}},
            "text": {"field": "t"}
          }
        }
      ]
    }
  ]
}
